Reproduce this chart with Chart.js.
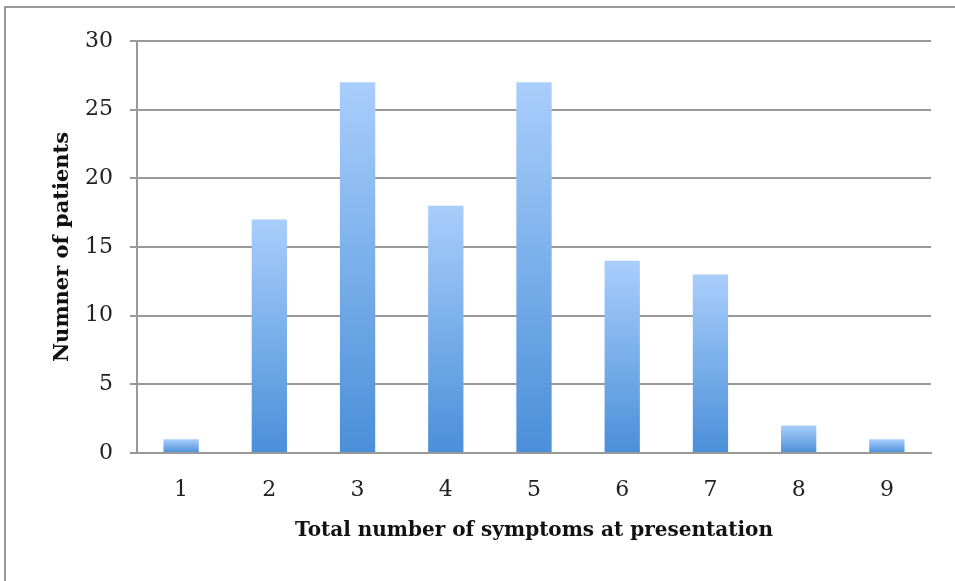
<!DOCTYPE html>
<html>
<head>
<meta charset="utf-8">
<script src="https://cdn.jsdelivr.net/npm/chart.js@4/dist/chart.umd.min.js"></script>
<style>
  html, body { margin: 0; padding: 0; background: #fff; }
  #wrap { position: relative; width: 955px; height: 581px; overflow: hidden; }
  #frame { position: absolute; left: 4px; top: 6px; width: 1000px; height: 1000px; border-left: 2px solid #999; border-top: 2px solid #999; box-sizing: border-box; pointer-events: none; }
  canvas { position: absolute; left: 0; top: 0; }
</style>
</head>
<body>
<div id="wrap">
  <canvas id="myChart" width="955" height="581"></canvas>
  <div id="frame"></div>
</div>
<script>
// categories and values
const symptomCounts = ['1', '2', '3', '4', '5', '6', '7', '8', '9'];
const patients = [1, 17, 27, 18, 27, 14, 13, 2, 1];
const yTicks = [0, 5, 10, 15, 20, 25, 30];

const serif = "'DejaVu Serif', 'Liberation Serif', serif";

// gradient for each bar, light on top, darker at the base
function barGradient(context) {
    const chart = context.chart;
    if (!chart.chartArea) return '#7fb0ea';
    const y = chart.scales.y;
    const top = y.getPixelForValue(context.raw);
    const bottom = y.getPixelForValue(0);
    const g = chart.ctx.createLinearGradient(0, top, 0, bottom);
    g.addColorStop(0, '#a9cefb');
    g.addColorStop(1, '#4a8fd9');
    return g;
}

const ctx = document.getElementById('myChart').getContext('2d');
const chart = new Chart(ctx, {
    type: 'bar',
    data: {
        labels: symptomCounts,
        datasets: [{
            label: 'Patients',
            data: patients,
            backgroundColor: barGradient,
            borderWidth: 0,
            barPercentage: 0.8,
            categoryPercentage: 0.5
        }]
    },
    options: {
        responsive: false,
        animation: false,
        layout: { padding: { left: 50, right: 24, top: 41, bottom: 38 } },
        plugins: {
            legend: { display: false },
            tooltip: { enabled: false }
        },
        scales: {
            x: {
                afterFit: (scale) => { scale.height = 90; },
                grid: { display: false, drawTicks: false },
                border: { display: true, color: '#999', width: 2 },
                ticks: { color: '#222', font: { family: serif, size: 22 }, padding: 24 },
                title: {
                    display: true,
                    text: 'Total number of symptoms at presentation',
                    color: '#111',
                    font: { family: serif, size: 20, weight: 'bold' },
                    padding: { top: 0, bottom: 0 }
                }
            },
            y: {
                min: 0,
                max: 30,
                afterFit: (scale) => { scale.width = 87; },
                afterBuildTicks: (scale) => { scale.ticks = yTicks.map(v => ({ value: v })); },
                grid: { color: '#999', lineWidth: 2, tickLength: 7 },
                border: { display: true, color: '#999', width: 2 },
                ticks: { color: '#222', font: { family: serif, size: 22 }, padding: 17 },
                title: {
                    display: true,
                    text: 'Numner of patients',
                    color: '#111',
                    font: { family: serif, size: 21, weight: 'bold' },
                    padding: { top: 0, bottom: 0 }
                }
            }
        }
    }
});
</script>
</body>
</html>
